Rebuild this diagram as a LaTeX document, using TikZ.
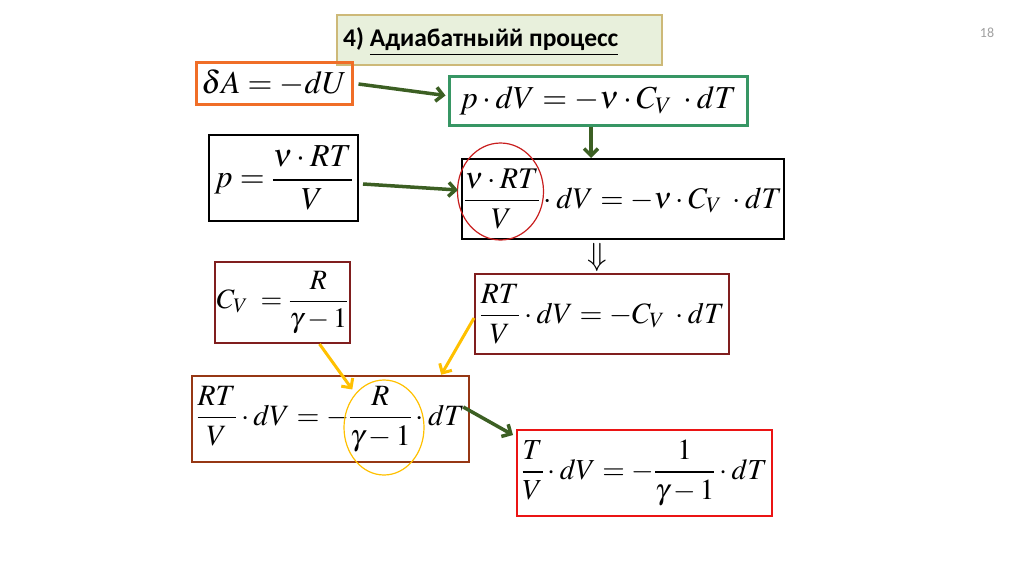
\documentclass[tikz,border=0pt]{standalone}
\usepackage{amsmath}
\usepackage{mathptmx}
\usepackage[no-math]{fontspec}
\newfontfamily\carlito{Carlito}
\usetikzlibrary{arrows.meta,shapes.geometric}
\definecolor{orangeA}{RGB}{240,110,40}
\definecolor{greenB}{RGB}{55,150,100}
\definecolor{arrowgreen}{RGB}{60,95,35}
\definecolor{darkredE}{RGB}{128,30,30}
\definecolor{brownG}{RGB}{150,55,20}
\definecolor{redH}{RGB}{235,20,20}
\definecolor{titlefill}{RGB}{232,240,220}
\definecolor{titledraw}{RGB}{205,185,120}
\definecolor{yellowarr}{RGB}{255,192,0}
\definecolor{ellred}{RGB}{200,30,30}
\definecolor{pagegray}{RGB}{160,160,160}
\tikzset{
  fbox/.style={draw, inner sep=0pt, anchor=center, font=\fontsize{30}{34}\selectfont},
  garrow/.style={draw=arrowgreen, line width=3.5pt, -{Straight Barb[length=7pt,width=14pt]}},
  yarrow/.style={draw=yellowarr, line width=3pt, -{Straight Barb[length=7pt,width=14pt]}},
}
\begin{document}
\begin{tikzpicture}[x=1pt,y=-1pt]
\useasboundingbox (0,0) rectangle (1024,574);
% title
\node[draw=titledraw, fill=titlefill, line width=1.2pt, minimum width=325pt, minimum height=50pt, inner sep=0pt] (title) at (499.5,40) {};
\node[anchor=west, font=\carlito\bfseries\fontsize{25.5}{28}\selectfont, inner sep=0pt] (titletext) at (343,42) {4) \underline{Адиабатныйй процесс}};
\node[font=\carlito\fontsize{14}{16}\selectfont, text=pagegray] (page) at (987,33) {18};
% boxes
\node[fbox, draw=orangeA, line width=3pt, minimum width=156pt, minimum height=42pt, font=\fontsize{32}{34}\selectfont] (A) at (274,83) {$\delta A=-dU$};
\node[fbox, draw=greenB, line width=3pt, minimum width=298pt, minimum height=49pt, font=\fontsize{32}{36}\selectfont] (B) at (598,100.5) {$p\cdot dV=-\nu\cdot C_V\;\cdot dT$};
\node[fbox, line width=2pt, minimum width=149pt, minimum height=86pt, font=\fontsize{32}{36}\selectfont] (C) at (283.5,178) {$p=\dfrac{\nu\cdot RT}{V}$};
\node[fbox, line width=2pt, minimum width=322pt, minimum height=80pt, font=\fontsize{30}{34}\selectfont] (D) at (623,199) {$\dfrac{\nu\cdot RT}{V}\cdot dV=-\nu\cdot C_V\;\cdot dT$};
\node[fbox, draw=darkredE, line width=2pt, minimum width=135pt, minimum height=81pt, font=\fontsize{28}{32}\selectfont] (E) at (282.5,302.5) {$C_V\;=\dfrac{R}{\gamma-1}$};
\node[fbox, draw=darkredE, line width=2pt, minimum width=254pt, minimum height=80pt, font=\fontsize{29.5}{34}\selectfont] (F) at (602,314) {$\dfrac{RT}{V}\cdot dV=-C_V\;\cdot dT$};
\node[fbox, draw=brownG, line width=2.5pt, minimum width=277pt, minimum height=86pt, font=\fontsize{29.5}{34}\selectfont] (G) at (330.5,419) {$\dfrac{RT}{V}\cdot dV=-\dfrac{R}{\gamma-1}\cdot dT$};
\node[fbox, draw=redH, line width=2pt, minimum width=255pt, minimum height=86pt, font=\fontsize{29}{34}\selectfont] (H) at (644.5,473) {$\dfrac{T}{V}\cdot dV=-\dfrac{1}{\gamma-1}\cdot dT$};
% ellipses
\node[ellipse, draw=ellred, line width=1.2pt, minimum width=86pt, minimum height=97pt, inner sep=0pt] (Rell) at (500.5,191.5) {};
\node[ellipse, draw=yellowarr, line width=1.2pt, minimum width=80pt, minimum height=95pt, inner sep=0pt] (Yell) at (384,427.5) {};
% double arrow
\node[font=\fontsize{32}{34}\selectfont, inner sep=0pt] (dd) at (597,257) {$\Downarrow$};
% connectors
\draw[garrow] ([xshift=5pt,yshift=-1pt]A.east) -- ([xshift=-2pt,yshift=5pt]B.west);
\draw[garrow] ([xshift=-7pt]B.south) -- ([xshift=-32pt]D.north);
\draw[garrow] ([xshift=4pt,yshift=-6pt]C.east) -- ([xshift=-3pt,yshift=9pt]D.west);
\draw[garrow] ([xshift=-7pt,yshift=12pt]G.east) -- ([xshift=-3pt,yshift=-6pt]H.north west);
\draw[yarrow] ([xshift=37pt]E.south) -- ([xshift=-3pt,yshift=4pt]Yell.north west);
\draw[yarrow] ([yshift=-4pt]F.west) -- ([xshift=-29pt]G.north east);
\end{tikzpicture}
\end{document}
